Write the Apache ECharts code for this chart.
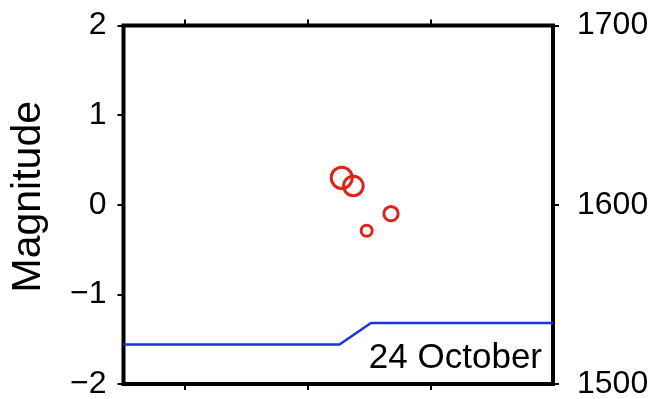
<!DOCTYPE html>
<html>
<head>
<meta charset="utf-8">
<style>
  html, body { margin: 0; padding: 0; background: #fff; }
  #chart { width: 659px; height: 399px; }
</style>
<script src="https://cdn.jsdelivr.net/npm/echarts@6/dist/echarts.min.js"></script>
</head>
<body>
<div id="chart"></div>
<script>
// Events on 24 October: time of day (hours) and magnitude
const eventHours = [13.67, 14.24, 14.89, 16.08];
const magnitudes = [0.30, 0.21, -0.29, -0.10];

// Cumulative event count (right axis)
const countHours = [3, 13.56, 15.1, 24];
const countValues = [1522, 1522, 1534, 1534];

// Axis ranges and ticks
const hourRange = [3, 24];
const hourTicks = [6, 12, 18];
const magRange = [-2, 2];
const countRange = [1500, 1700];
const dayLabel = '24 October';

const FONT = '"Liberation Sans", Arial, Helvetica, sans-serif';
const minus = v => String(v).replace('-', '\u2212');

const chart = echarts.init(document.getElementById('chart'), null, { renderer: 'canvas' });

const eventData = eventHours.map((h, i) => [h, magnitudes[i]]);
const countData = countHours.map((h, i) => [h, countValues[i]]);

const tickStyle = { show: true, inside: false, length: 6, lineStyle: { color: '#000', width: 2 } };

chart.setOption({
  animation: false,
  backgroundColor: '#fff',
  grid: {
    left: 123.5, right: 106, top: 25.5, bottom: 15,
    outerBoundsMode: 'none', containLabel: false,
    show: true, borderColor: '#000', borderWidth: 4, backgroundColor: 'transparent'
  },
  xAxis: [
    {
      type: 'value', position: 'bottom', min: hourRange[0], max: hourRange[1],
      axisLine: { show: false, onZero: false }, splitLine: { show: false },
      axisTick: Object.assign({ customValues: hourTicks }, tickStyle),
      axisLabel: { show: false }
    },
    {
      type: 'value', position: 'top', min: hourRange[0], max: hourRange[1],
      axisLine: { show: false, onZero: false }, splitLine: { show: false },
      axisTick: Object.assign({ customValues: hourTicks }, tickStyle),
      axisLabel: { show: false }
    }
  ],
  yAxis: [
    {
      type: 'value', position: 'left', min: magRange[0], max: magRange[1], interval: 1,
      name: 'Magnitude', nameLocation: 'middle', nameGap: 74, nameRotate: 90,
      nameTextStyle: { fontFamily: FONT, fontSize: 41, color: '#000', padding: [0, 0, 0, 16] },
      axisLine: { show: false, onZero: false }, splitLine: { show: false },
      axisTick: tickStyle,
      axisLabel: { margin: 17, fontFamily: FONT, fontSize: 32, color: '#000', formatter: minus }
    },
    {
      type: 'value', position: 'right', min: countRange[0], max: countRange[1], interval: 100,
      axisLine: { show: false, onZero: false }, splitLine: { show: false },
      axisTick: tickStyle,
      axisLabel: { margin: 24, fontFamily: FONT, fontSize: 32, color: '#000', formatter: v => String(v) }
    }
  ],
  series: [
    {
      type: 'line', xAxisIndex: 0, yAxisIndex: 1,
      data: countData, showSymbol: false, symbol: 'none',
      lineStyle: { color: '#1a33e0', width: 2.5 },
      z: 2
    },
    {
      type: 'scatter', xAxisIndex: 0, yAxisIndex: 0,
      data: eventData,
      symbol: 'circle',
      symbolSize: d => 16 + 17 * d[1],
      itemStyle: { color: 'rgba(0,0,0,0)', borderColor: '#e0221a', borderWidth: 3, opacity: 1 },
      z: 3
    }
  ],
  graphic: [
    {
      type: 'text', x: 542, y: 358, z: 10,
      style: {
        text: dayLabel, fontFamily: FONT, fontSize: 35, fill: '#000',
        align: 'right', verticalAlign: 'middle'
      }
    }
  ]
});
</script>
</body>
</html>
